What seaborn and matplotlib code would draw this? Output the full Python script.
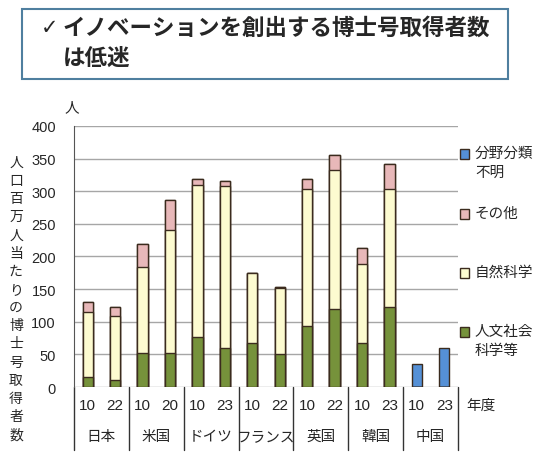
import pandas as pd
import numpy as np
import seaborn as sns
import matplotlib.pyplot as plt
from matplotlib.patches import Rectangle
import matplotlib.transforms as mtransforms

countries = ['日本', '米国', 'ドイツ', 'フランス', '英国', '韓国', '中国']
years = ['10', '22', '10', '20', '10', '23', '10', '22', '10', '22', '10', '23', '10', '23']
humanities = [16, 11, 52, 52, 76, 60, 67, 50, 93, 119, 67, 123, 0, 0]
natural = [99, 98, 132, 189, 234, 248, 107, 101, 211, 214, 121, 181, 0, 0]
other = [16, 14, 35, 45, 9, 7, 0, 2, 15, 22, 25, 37, 0, 0]
unknown = [0, 0, 0, 0, 0, 0, 0, 0, 0, 0, 0, 0, 36, 60]

legend_labels = ['分野分類\n不明', 'その他', '自然科学', '人文社会\n科学等']
colors = {'unknown': '#5590d6', 'other': '#e8b8b9', 'natural': '#fdfbd0', 'humanities': '#76923b'}

slots = [countries[i // 2] + years[i] for i in range(len(years))]
df = pd.DataFrame({'slot': slots, 'hum': humanities, 'nat': natural,
                   'oth': other, 'unk': unknown})
df['c1'] = df['hum']
df['c2'] = df['c1'] + df['nat']
df['c3'] = df['c2'] + df['oth']
df['c4'] = df['c3'] + df['unk']

sns.set_style('white')
plt.rcParams['font.family'] = ['Noto Sans CJK JP', 'DejaVu Sans']
num_font = ['Liberation Sans', 'DejaVu Sans']

fig = plt.figure(figsize=(5.55, 4.6), dpi=100)
ax = fig.add_axes([74 / 555, 0.1565, 384 / 555, 0.5675])

edge = '#3b2b1e'
# stacked bars drawn as overlapping cumulative totals
for col, key in [('c4', 'unknown'), ('c3', 'other'), ('c2', 'natural'), ('c1', 'humanities')]:
    sns.barplot(data=df, x='slot', y=col, order=slots, color=colors[key], saturation=1,
                edgecolor=edge, linewidth=1, width=0.38, errorbar=None, ax=ax, zorder=3)

ax.set_xlim(-0.5, 13.5)
ax.set_ylim(0, 400)
ax.set_yticks(range(0, 401, 50))
ax.yaxis.grid(True, color='#a6a6a6', linewidth=1, zorder=0)
ax.set_axisbelow(True)
ax.set_xticks([])
ax.set_xlabel('')
ax.set_ylabel('')
for s in ['top', 'right', 'bottom']:
    ax.spines[s].set_visible(False)
ax.spines['left'].set_color('#555555')
ax.tick_params(axis='y', direction='in', length=4, color='#555555', pad=13, labelsize=10.5)
for lbl in ax.get_yticklabels():
    lbl.set_family(num_font)

# group separators and x labels below the axis
trans = mtransforms.blended_transform_factory(ax.transData, ax.transAxes)
for b in np.arange(-0.5, 14, 2):
    ax.plot([b, b], [0, -0.24], color='#333333', lw=1, transform=trans, clip_on=False)
for i, y in enumerate(years):
    ax.text(i, -0.07, y, transform=trans, ha='center', va='center', fontsize=11,
            family=num_font)
for g, c in enumerate(countries):
    ax.text(2 * g + 0.5, -0.188, c, transform=trans, ha='center', va='center', fontsize=10.5)

fig.text(466 / 555, 1 - 406 / 460, '年度', ha='left', va='center', fontsize=10.5)
fig.text(72 / 555, 1 - 108 / 460, '人', ha='center', va='center', fontsize=10.5)
fig.text(16 / 555, 1 - 299 / 460, '\n'.join('人口百万人当たりの博士号取得者数'),
         ha='center', va='center', fontsize=10, linespacing=1.38)

# legend drawn on the right
marker_y = [155, 215, 274, 333]
legend_colors = [colors['unknown'], colors['other'], colors['natural'], colors['humanities']]
for lab, my, lc in zip(legend_labels, marker_y, legend_colors):
    fig.patches.append(Rectangle((460 / 555, 1 - (my + 5) / 460), 9 / 555, 10 / 460,
                                 transform=fig.transFigure, facecolor=lc, edgecolor=edge, lw=1))
    fig.text(475 / 555, 1 - (my - 8) / 460, lab, ha='left', va='top', fontsize=10.5,
             linespacing=1.45)

# title box
fig.patches.append(Rectangle((22 / 555, 1 - 80 / 460), 486 / 555, 70 / 460,
                             transform=fig.transFigure, facecolor='white',
                             edgecolor='#4f7f9f', lw=1.5))
fig.text(41 / 555, 1 - 28 / 460, '✓', ha='left', va='center', fontsize=15,
         family='DejaVu Sans')
fig.text(63 / 555, 1 - 28 / 460, 'イノベーションを創出する博士号取得者数',
         ha='left', va='center', fontsize=16.2, weight='bold')
fig.text(63 / 555, 1 - 58 / 460, 'は低迷', ha='left', va='center', fontsize=16.2, weight='bold')

plt.savefig('out.png', dpi=100)
